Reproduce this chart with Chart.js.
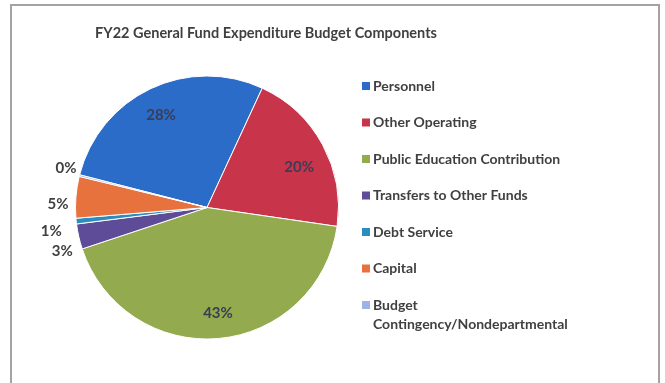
<!DOCTYPE html>
<html>
<head>
<meta charset="utf-8">
<title>FY22 General Fund Expenditure Budget Components</title>
<script src="https://cdn.jsdelivr.net/npm/chart.js@4.4.1/dist/chart.umd.min.js"></script>
<style>
  html, body { margin: 0; padding: 0; background: #ffffff; }
  #wrap { position: relative; width: 665px; height: 383px; }
</style>
</head>
<body>
<div id="wrap"><canvas id="chart" width="665" height="383"></canvas></div>
<script>
// Budget components (share of the FY22 General Fund, percent)
const categories = [
  'Personnel',
  'Other Operating',
  'Public Education Contribution',
  'Transfers to Other Funds',
  'Debt Service',
  'Capital',
  'Budget Contingency/Nondepartmental'
];
const shares = [27.9, 20.4, 42.6, 3.1, 0.7, 5.1, 0.2];
const sliceColors = ['#2a6cc8', '#c8354b', '#93ab4e', '#5f4c98', '#2b8cc0', '#e8723e', '#9bb4e4'];
const chartTitle = 'FY22 General Fund Expenditure Budget Components';

const TEXT = '#404040';
const FONT = 'Lato, "Open Sans", sans-serif';

// Slices that carry their percentage outside the pie, with small nudges
// so the stacked labels on the left side do not collide.
const outsideNudge = { 3: [1, 11], 4: [-7, 8], 5: [0, 8], 6: [4, -3] };
// Fine placement of the labels drawn inside the larger slices.
const insideNudge = { 0: [-2, 0], 1: [2, 9], 2: [2, 3] };

const pct = v => {
  const total = shares.reduce((a, b) => a + b, 0);
  return Math.round(v / total * 100) + '%';
};

const decorations = {
  id: 'decorations',
  beforeDraw(chart) {
    const ctx = chart.ctx;
    ctx.save();
    ctx.fillStyle = '#ffffff';
    ctx.fillRect(0, 0, chart.width, chart.height);
    ctx.strokeStyle = '#a3a3a3';
    ctx.lineWidth = 2;
    ctx.strokeRect(11, 5, 648, 400);
    ctx.fillStyle = TEXT;
    ctx.font = 'bold 14.5px ' + FONT;
    ctx.textAlign = 'center';
    ctx.textBaseline = 'middle';
    ctx.fillText(chartTitle, 266, 33);
    ctx.restore();
  },
  afterDraw(chart) {
    const ctx = chart.ctx;
    const meta = chart.getDatasetMeta(0);
    ctx.save();
    ctx.textBaseline = 'middle';
    ctx.textAlign = 'center';
    ctx.font = 'bold 15px ' + FONT;
    meta.data.forEach((arc, i) => {
      const p = arc.getProps(['x', 'y', 'startAngle', 'endAngle', 'outerRadius'], true);
      const mid = (p.startAngle + p.endAngle) / 2;
      const label = pct(shares[i]);
      if (i in outsideNudge) {
        const r = p.outerRadius + 18;
        const [dx, dy] = outsideNudge[i];
        ctx.fillStyle = TEXT;
        ctx.fillText(label, p.x + Math.cos(mid) * r + dx, p.y + Math.sin(mid) * r + dy);
      } else {
        const r = p.outerRadius * 0.78;
        const [dx, dy] = insideNudge[i] || [0, 0];
        ctx.fillStyle = '#3a3d55';
        ctx.fillText(label, p.x + Math.cos(mid) * r + dx, p.y + Math.sin(mid) * r + dy);
      }
    });

    // Legend on the right
    ctx.textAlign = 'left';
    ctx.font = 'bold 14px ' + FONT;
    const x0 = 362, y0 = 86, step = 36.5, maxW = 215;
    categories.forEach((name, i) => {
      const y = y0 + i * step;
      ctx.fillStyle = sliceColors[i];
      ctx.fillRect(x0, y - 4, 8, 8);
      ctx.fillStyle = TEXT;
      // simple word wrap
      const words = name.split(' ');
      const lines = [];
      let line = '';
      words.forEach(w => {
        const t = line ? line + ' ' + w : w;
        if (ctx.measureText(t).width > maxW && line) { lines.push(line); line = w; }
        else line = t;
      });
      lines.push(line);
      lines.forEach((l, k) => ctx.fillText(l, x0 + 11, y + k * 19.5));
    });
    ctx.restore();
  }
};

new Chart(document.getElementById('chart'), {
  type: 'pie',
  data: {
    labels: categories,
    datasets: [{
      data: shares,
      backgroundColor: sliceColors,
      borderColor: '#ffffff',
      borderWidth: 1
    }]
  },
  options: {
    responsive: false,
    animation: false,
    rotation: -75.6,
    layout: { padding: { left: 75, right: 326, top: 75, bottom: 43 } },
    plugins: {
      legend: { display: false },
      tooltip: { enabled: false },
      title: { display: false }
    }
  },
  plugins: [decorations]
});
</script>
</body>
</html>
